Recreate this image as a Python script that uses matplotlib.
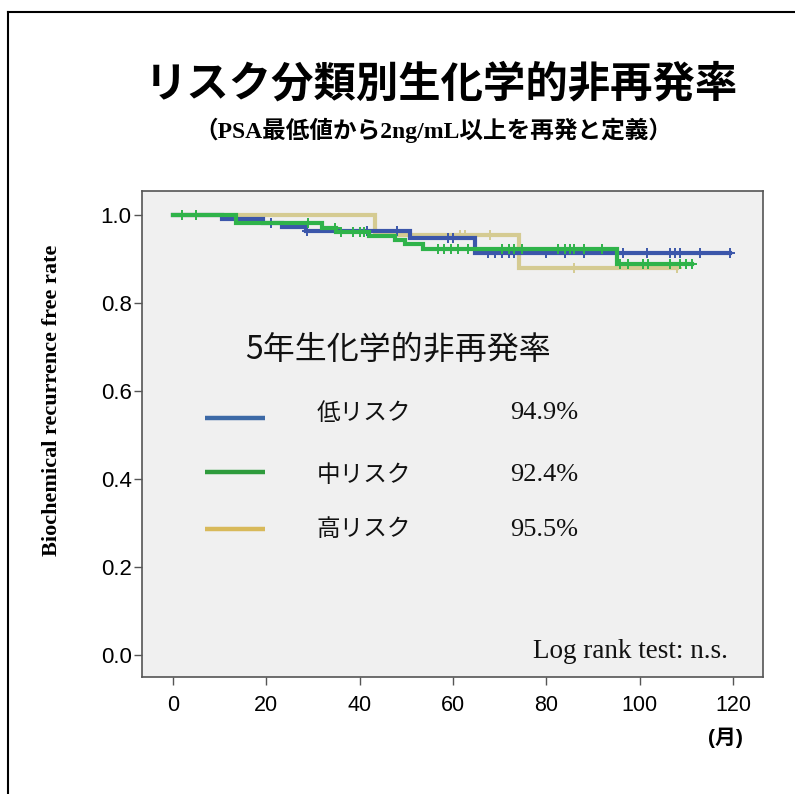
"""
リスク分類別 生化学的非再発率 (Kaplan-Meier) の再現。
"""

import numpy as np
import matplotlib
matplotlib.use("Agg")
import matplotlib.pyplot as plt
from matplotlib.lines import Line2D

plt.rcParams["font.family"] = ["Noto Sans CJK JP", "DejaVu Sans"]

# --- Daten ---
groups = ["低リスク", "中リスク", "高リスク"]
rates_5y = ["94.9%", "92.4%", "95.5%"]

low_t = [0, 10.6, 19.3, 23.3, 28.6, 50.8, 64.7]
low_s = [1.0, 0.990, 0.981, 0.972, 0.963, 0.947, 0.913]
low_end = 119.4
low_cens = [21, 28.7, 41.5, 48, 59, 60, 67.5, 69, 70.5, 72, 73, 80, 84,
            88, 96.5, 101.5, 106.5, 107.5, 108.6, 113, 119.4]

mid_t = [0, 13.6, 32, 35, 42, 47.5, 49.7, 53.6, 95.1]
mid_s = [1.0, 0.982, 0.970, 0.961, 0.952, 0.943, 0.935, 0.922, 0.889]
mid_end = 111.1
mid_cens = [1.9, 4.9, 29, 34.7, 36, 38.6, 40, 41, 56.8, 58, 59.5, 61, 63.2,
            70.5, 72, 73, 74.8, 82.5, 84, 85, 86, 88, 92, 95.8, 97.5,
            100.7, 101.8, 106.5, 108.6, 110, 111.1]

high_t = [0, 43.3, 74.1]
high_s = [1.0, 0.955, 0.880]
high_end = 108
high_cens = [61.5, 62.5, 68, 86, 108]

xticks = [0, 20, 40, 60, 80, 100, 120]
yticks = [0.0, 0.2, 0.4, 0.6, 0.8, 1.0]

curve_colors = ["#3b56aa", "#2fb34a", "#d5cb92"]
legend_colors = ["#3c69a6", "#2e9b3c", "#d8b95a"]


def km(ax, t, s, end, cens, color, z):
    tt = list(t) + [end]
    ss = list(s) + [s[-1]]
    ax.step(tt, ss, where="post", color=color, lw=3.0, zorder=z,
            solid_joinstyle="miter")
    idx = np.searchsorted(t, cens, side="right") - 1
    cy = np.array(s)[idx]
    ax.plot(cens, cy, ls="none", marker="+", ms=7, mew=1.4, color=color,
            zorder=z)


fig = plt.figure(figsize=(7.95, 7.94), dpi=100)
ax = fig.add_axes([0.1786, 0.147, 0.7811, 0.6124])
ax.set_facecolor("#f0f0f0")

km(ax, high_t, high_s, high_end, high_cens, curve_colors[2], 2)
km(ax, low_t, low_s, low_end, low_cens, curve_colors[0], 3)
km(ax, mid_t, mid_s, mid_end, mid_cens, curve_colors[1], 4)

ax.set_xlim(-6.64, 126.4)
ax.set_ylim(-0.0495, 1.0545)
ax.set_xticks(xticks)
ax.set_yticks(yticks)
ax.set_xticklabels([str(v) for v in xticks], family="Liberation Sans",
                   fontsize=15.5)
ax.set_yticklabels([f"{v:.1f}" for v in yticks], family="Liberation Sans",
                   fontsize=16)
ax.tick_params(direction="out", length=6, width=1, color="#555555")
ax.tick_params(axis="x", pad=7)
ax.tick_params(axis="y", pad=1.5)
for sp in ax.spines.values():
    sp.set_color("#555555")
    sp.set_linewidth(1.2)

# Legende von Hand
ax.text(0.166, 0.673, "5年生化学的非再発率", transform=ax.transAxes,
        ha="left", va="center", fontsize=23, color="#111111")

line_y = [0.5332, 0.4222, 0.3050]
text_y = [0.5435, 0.416, 0.3029]
for g, r, c, ly, ty in zip(groups, rates_5y, legend_colors, line_y, text_y):
    ax.plot([0.1014, 0.198], [ly, ly], transform=ax.transAxes, color=c,
            lw=3.2, solid_capstyle="butt")
    ax.text(0.281, ty, g, transform=ax.transAxes, ha="left", va="center",
            fontsize=17, color="#111111")
    ax.text(0.5926, ty, r, transform=ax.transAxes, ha="left", va="center",
            fontsize=19, family="Liberation Serif", color="#111111")

ax.text(0.9436, 0.0526, "Log rank test: n.s.", transform=ax.transAxes,
        ha="right", va="center", fontsize=19.5, family="Liberation Serif",
        color="#111111")

fig.text(0.5553, 0.893, "リスク分類別生化学的非再発率", ha="center",
         va="center", fontsize=30.5, fontweight="bold")
fig.text(0.545, 0.8363, "（PSA最低値から2ng/mL以上を再発と定義）", ha="center",
         va="center", fontsize=17, fontweight="bold",
         family=["Liberation Serif", "Noto Sans CJK JP"])
fig.text(0.0654, 0.496, "Biochemical recurrence free rate", rotation=90,
         ha="center", va="center", fontsize=16, fontweight="bold",
         family="Liberation Serif")
fig.text(0.912, 0.0705, "(月)", ha="center", va="center", fontsize=15,
         fontweight="bold", family=["Liberation Sans", "Noto Sans CJK JP"])

# Rahmen links/oben
fig.add_artist(Line2D([0.0101, 0.0101], [0, 0.985], color="black", lw=1.5))
fig.add_artist(Line2D([0.0101, 1.0], [0.985, 0.985], color="black", lw=1.5))

fig.savefig("out.png", dpi=100)
